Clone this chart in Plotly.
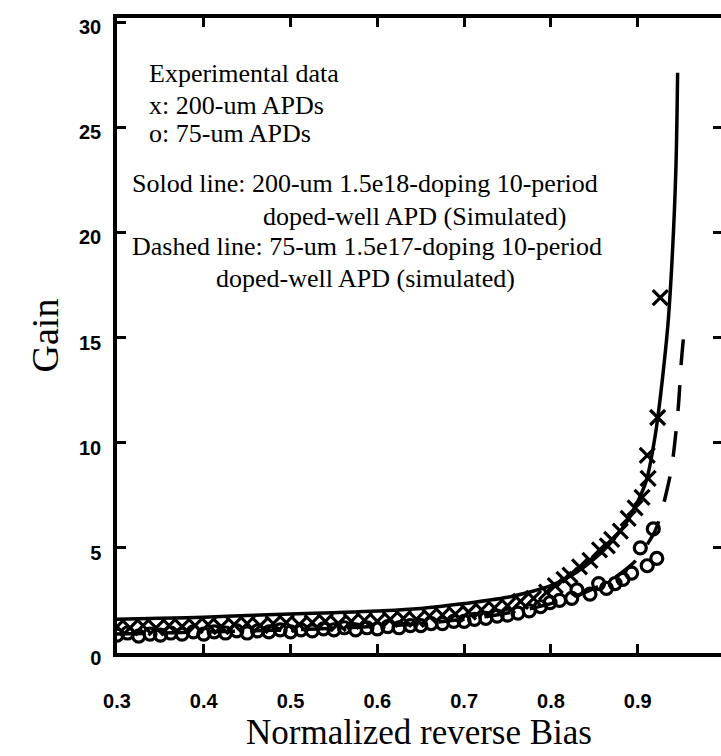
import plotly.graph_objects as go

# Simulated gain curves
solid_bias = [0.30, 0.35, 0.40, 0.45, 0.50, 0.55, 0.60, 0.65, 0.70, 0.75, 0.78, 0.80,
              0.82, 0.84, 0.86, 0.88, 0.89, 0.90, 0.91, 0.92, 0.925, 0.93, 0.935,
              0.94, 0.944, 0.946]
solid_gain = [1.6, 1.65, 1.7, 1.78, 1.85, 1.92, 2.0, 2.12, 2.35, 2.65, 2.95, 3.2,
              3.6, 4.15, 4.85, 5.8, 6.4, 7.2, 8.2, 10.3, 11.8, 13.6, 15.7,
              19.0, 23.0, 27.6]

dashed_bias = [0.30, 0.35, 0.40, 0.45, 0.50, 0.55, 0.60, 0.65, 0.70, 0.75, 0.80, 0.84,
               0.87, 0.89, 0.90, 0.91, 0.92, 0.926, 0.934, 0.939, 0.943, 0.947,
               0.950, 0.953]
dashed_gain = [0.9, 0.95, 1.0, 1.05, 1.1, 1.18, 1.27, 1.4, 1.6, 1.9, 2.35, 2.9,
               3.5, 4.1, 4.5, 5.1, 5.8, 6.5, 7.8, 8.8, 10.1, 11.8, 13.7, 15.1]

# Measured gain, 200-um devices (x markers)
apd200_bias = [0.300, 0.315, 0.330, 0.345, 0.360, 0.375, 0.390, 0.405, 0.420, 0.435,
               0.450, 0.465, 0.480, 0.495, 0.510, 0.525, 0.540, 0.555, 0.570, 0.585,
               0.600, 0.615, 0.630, 0.645, 0.660, 0.675, 0.690, 0.705, 0.720, 0.735,
               0.750, 0.765, 0.780, 0.795, 0.805, 0.815, 0.822, 0.833, 0.845, 0.856,
               0.865, 0.870, 0.880, 0.889, 0.897, 0.905, 0.911, 0.912, 0.923, 0.926]
apd200_gain = [1.25, 1.2, 1.3, 1.2, 1.3, 1.25, 1.3, 1.35, 1.25, 1.35,
               1.4, 1.3, 1.4, 1.45, 1.35, 1.45, 1.5, 1.4, 1.5, 1.55,
               1.5, 1.6, 1.65, 1.6, 1.75, 1.8, 1.85, 1.95, 2.05, 2.15,
               2.25, 2.45, 2.6, 2.9, 3.2, 3.5, 3.7, 4.1, 4.4, 4.9,
               5.1, 5.4, 5.8, 6.4, 6.9, 7.4, 9.4, 8.3, 11.2, 16.9]

# Measured gain, 75-um devices (o markers)
apd75_bias = [0.300, 0.312, 0.325, 0.338, 0.350, 0.362, 0.375, 0.388, 0.400, 0.412,
              0.425, 0.438, 0.450, 0.462, 0.475, 0.488, 0.500, 0.512, 0.525, 0.538,
              0.550, 0.562, 0.575, 0.588, 0.600, 0.612, 0.625, 0.638, 0.650, 0.662,
              0.675, 0.688, 0.700, 0.712, 0.725, 0.738, 0.750, 0.762, 0.775, 0.788,
              0.799, 0.810, 0.824, 0.830, 0.845, 0.855, 0.864, 0.874, 0.883, 0.893,
              0.903, 0.911, 0.918, 0.922]
apd75_gain = [0.85, 0.95, 0.8, 0.9, 0.85, 0.95, 0.9, 1.0, 0.9, 1.0,
              0.95, 1.05, 0.95, 1.05, 1.0, 1.1, 1.0, 1.1, 1.05, 1.15,
              1.1, 1.2, 1.1, 1.2, 1.15, 1.25, 1.2, 1.3, 1.3, 1.4,
              1.4, 1.5, 1.5, 1.6, 1.65, 1.75, 1.8, 1.9, 2.0, 2.2,
              2.4, 2.5, 2.6, 3.0, 2.8, 3.3, 3.07, 3.3, 3.5, 3.8,
              5.0, 4.15, 5.9, 4.5]

x_ticks = [0.3, 0.4, 0.5, 0.6, 0.7, 0.8, 0.9]
y_ticks = [0, 5, 10, 15, 20, 25, 30]

notes = [
    ("Experimental data", 0.335, 27.58),
    ("x: 200-um APDs", 0.335, 26.03),
    ("o: 75-um APDs", 0.335, 24.73),
    ("Solod line: 200-um 1.5e18-doping 10-period", 0.315, 22.35),
    ("doped-well APD (Simulated)", 0.466, 20.78),
    ("Dashed line: 75-um 1.5e17-doping 10-period", 0.315, 19.31),
    ("doped-well APD (simulated)", 0.412, 17.83),
]

serif = "Liberation Serif"
sans = "Liberation Sans"

fig = go.Figure()

fig.add_trace(go.Scatter(
    x=apd75_bias, y=apd75_gain, mode="markers",
    marker=dict(symbol="circle-open", size=12, color="black",
                line=dict(width=3.2, color="black")),
    showlegend=False))
fig.add_trace(go.Scatter(
    x=apd200_bias, y=apd200_gain, mode="markers",
    marker=dict(symbol="x-thin-open", size=15, color="black",
                line=dict(width=3.2, color="black")),
    showlegend=False))
fig.add_trace(go.Scatter(
    x=dashed_bias, y=dashed_gain, mode="lines",
    line=dict(color="black", width=3.5, dash="26px,20px", shape="spline"),
    showlegend=False))
fig.add_trace(go.Scatter(
    x=solid_bias, y=solid_gain, mode="lines",
    line=dict(color="black", width=3.5, shape="spline"),
    showlegend=False))

# right-hand tick marks only (no line)
fig.add_trace(go.Scatter(x=[None], y=[None], yaxis="y2", showlegend=False))

for text, xx, yy in notes:
    fig.add_annotation(x=xx, y=yy, text=text, showarrow=False,
                       xanchor="left", yanchor="middle",
                       font=dict(family=serif, size=26, color="black"))

fig.update_layout(
    width=721, height=756,
    margin=dict(l=117, r=0, t=18, b=103),
    paper_bgcolor="white", plot_bgcolor="white",
    xaxis=dict(
        range=[0.3, 0.996], tickvals=x_ticks,
        ticktext=[f"{v:.1f}" for v in x_ticks],
        ticks="inside", ticklen=9, tickwidth=2.5, tickcolor="black",
        showline=True, linewidth=3.5, linecolor="black", mirror="ticks",
        showgrid=False, zeroline=False,
        tickfont=dict(family=sans, size=20, color="black", weight="bold"),
        ticklabelstandoff=27,
        title=dict(text="Normalized reverse Bias",
                   font=dict(family=serif, size=35, color="black"),
                   standoff=10),
    ),
    yaxis=dict(
        range=[0, 30.2], tickvals=y_ticks,
        ticks="inside", ticklen=9, tickwidth=2.5, tickcolor="black",
        showline=True, linewidth=3.5, linecolor="black",
        showgrid=False, zeroline=False,
        tickfont=dict(family=sans, size=20, color="black", weight="bold"),
        ticklabelstandoff=8, ticklabelshift=5,
        title=dict(text="Gain",
                   font=dict(family=serif, size=38, color="black"),
                   standoff=10),
    ),
    yaxis2=dict(
        range=[0, 30.2], tickvals=[5, 10, 15, 20, 25],
        overlaying="y", side="right", anchor="x",
        ticks="inside", ticklen=8, tickwidth=3, tickcolor="black",
        showline=False, showgrid=False, zeroline=False,
        showticklabels=False,
    ),
)

fig.write_html("out.html")
